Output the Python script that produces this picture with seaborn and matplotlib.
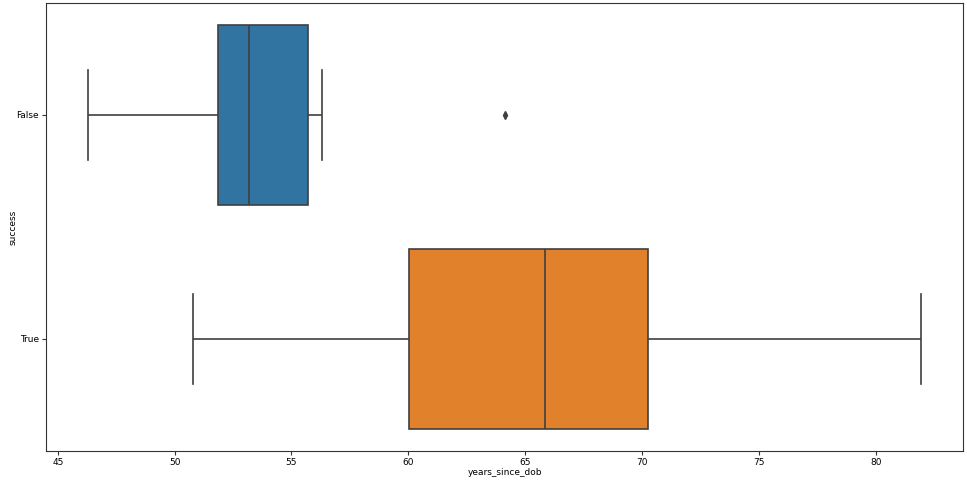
import matplotlib
matplotlib.use("Agg")
import matplotlib.pyplot as plt
import seaborn as sns
import pandas as pd

# Sample values chosen so the box statistics match the reference
false_values = [46.28, 49.0, 51.85, 52.5, 53.18, 54.3, 55.71, 56.31, 64.14]
true_values = [50.78, 55.0, 60.03, 63.0, 65.86, 68.0, 70.27, 76.0, 81.96]
categories = ["False", "True"]
colors = ["#3274a1", "#e1812c"]

df = pd.DataFrame({
    "years_since_dob": false_values + true_values,
    "success": [categories[0]] * len(false_values) + [categories[1]] * len(true_values),
})

plt.rcParams["font.family"] = ["DejaVu Sans"]
fig = plt.figure(figsize=(9.67, 4.8), dpi=100)
ax = fig.add_axes([0.0476, 0.0604, 0.9484, 0.9336])

sns.boxplot(data=df, x="years_since_dob", y="success", hue="success",
            order=categories, hue_order=categories, palette=colors,
            saturation=1, width=0.8, linecolor="#3f3f3f", linewidth=1.2,
            legend=False,
            flierprops=dict(marker="d", markerfacecolor="#3f3f3f",
                            markeredgecolor="#3f3f3f", markersize=4),
            ax=ax)

ax.set_xticks([45, 50, 55, 60, 65, 70, 75, 80])
ax.tick_params(labelsize=6.5, length=3, width=0.8, pad=2,
               colors="#333333", labelcolor="black")
ax.set_xlabel("years_since_dob", fontsize=6.5, labelpad=1)
ax.set_ylabel("success", fontsize=6.5, labelpad=-1)
for s in ax.spines.values():
    s.set_color("#333333")
    s.set_linewidth(0.8)

fig.savefig("out.png", dpi=100)
